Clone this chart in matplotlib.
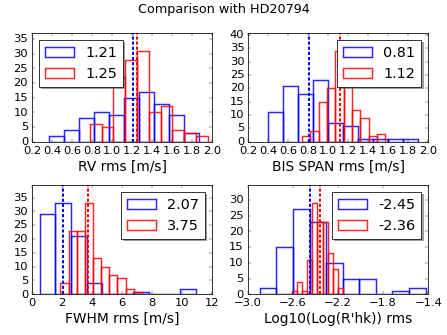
import numpy as np
import matplotlib
matplotlib.use("Agg")
import matplotlib.pyplot as plt

plt.style.use("classic")

title = "Comparison with HD20794"

# Panel 1: RV rms
rv_blue_range = (0.367, 1.867)
rv_blue_counts = [2, 4, 8, 10, 9, 15, 17, 13, 9, 3]
rv_red_range = (0.777, 1.957)
rv_red_counts = [6, 5, 22, 28, 31, 10, 12, 4, 3, 2]
rv_means = [1.21, 1.25]

# Panel 2: BIS SPAN rms
bis_blue_range = (0.40, 1.895)
bis_blue_counts = [11, 21, 18, 23, 7, 6, 1, 1, 1, 1]
bis_red_range = (0.738, 1.569)
bis_red_counts = [2, 4, 15, 20, 34, 22, 12, 9, 2, 3]
bis_means = [0.81, 1.12]

# Panel 3: FWHM rms
fwhm_blue_range = (0.51, 10.93)
fwhm_blue_counts = [29, 33, 21, 4, 0, 0, 1, 0, 0, 2]
fwhm_red_range = (1.89, 7.33)
fwhm_red_counts = [4, 23, 23, 33, 13, 10, 7, 6, 2, 1]
fwhm_means = [2.07, 3.75]

# Panel 4: Log10(Log(R'hk)) rms
rhk_blue_range = (-2.891, -1.424)
rhk_blue_counts = [2, 15, 27, 23, 10, 5, 5, 0, 1, 2]
rhk_red_range = (-2.61, -2.153)
rhk_red_counts = [1, 4, 1, 11, 29, 23, 23, 13, 8, 2]
rhk_means = [-2.45, -2.36]

panels = [
    dict(br=rv_blue_range, bc=rv_blue_counts, rr=rv_red_range, rc=rv_red_counts,
         means=rv_means, xlabel="RV rms [m/s]", xlim=(0.2, 2.0),
         xticks=np.arange(0.2, 2.01, 0.2), fmt="%.1f", loc="upper left"),
    dict(br=bis_blue_range, bc=bis_blue_counts, rr=bis_red_range, rc=bis_red_counts,
         means=bis_means, xlabel="BIS SPAN rms [m/s]", xlim=(0.2, 2.0),
         xticks=np.arange(0.2, 2.01, 0.2), fmt="%.1f", loc="upper right"),
    dict(br=fwhm_blue_range, bc=fwhm_blue_counts, rr=fwhm_red_range, rc=fwhm_red_counts,
         means=fwhm_means, xlabel="FWHM rms [m/s]", xlim=(0, 12),
         xticks=np.arange(0, 12.1, 2), fmt="%d", loc="upper right"),
    dict(br=rhk_blue_range, bc=rhk_blue_counts, rr=rhk_red_range, rc=rhk_red_counts,
         means=rhk_means, xlabel="Log10(Log(R'hk)) rms", xlim=(-3.0, -1.4),
         xticks=np.arange(-3.0, -1.39, 0.4), fmt="%.1f", loc="upper right"),
]

fig = plt.figure(figsize=(8, 6), dpi=55.875)
fig.patch.set_facecolor("white")
positions = [
    [0.0716, 0.577, 0.4027, 0.3245],
    [0.5555, 0.577, 0.4027, 0.3245],
    [0.0716, 0.1215, 0.4027, 0.3265],
    [0.5540, 0.1215, 0.4040, 0.3265],
]

for p, pos in zip(panels, positions):
    ax = fig.add_axes(pos)
    nb = len(p["bc"])
    be = np.linspace(p["br"][0], p["br"][1], nb + 1)
    re = np.linspace(p["rr"][0], p["rr"][1], len(p["rc"]) + 1)
    ax.hist(be[:-1], bins=be, weights=p["bc"], histtype="bar", fill=False,
            edgecolor="blue", linewidth=1.9, alpha=0.85,
            label="%.2f" % p["means"][0])
    ax.hist(re[:-1], bins=re, weights=p["rc"], histtype="bar", fill=False,
            edgecolor="red", linewidth=1.9, alpha=0.85,
            label="%.2f" % p["means"][1])
    ymax = 1.2 * max(max(p["bc"]), max(p["rc"]))
    ax.axvline(p["means"][0], color="blue", linestyle=(0, (4, 2.6)), linewidth=2.6)
    ax.axvline(p["means"][1], color="red", linestyle=(0, (4, 2.6)), linewidth=2.6)
    ax.set_ylim(0, ymax)
    ax.set_xlim(*p["xlim"])
    ax.set_xticks(p["xticks"])
    ax.set_xticklabels([(p["fmt"] % t).replace("-", "\u2212") for t in p["xticks"]])
    ax.tick_params(labelsize=14.8, pad=5)
    ax.set_xlabel(p["xlabel"], fontsize=17.8, labelpad=5)
    ax.legend(loc=p["loc"], fontsize=18.5, shadow=True, handlelength=2.0,
              borderaxespad=0.5)

fig.suptitle(title, fontsize=16.5, y=0.99)
fig.savefig("out.png", dpi=55.875, facecolor="white")
